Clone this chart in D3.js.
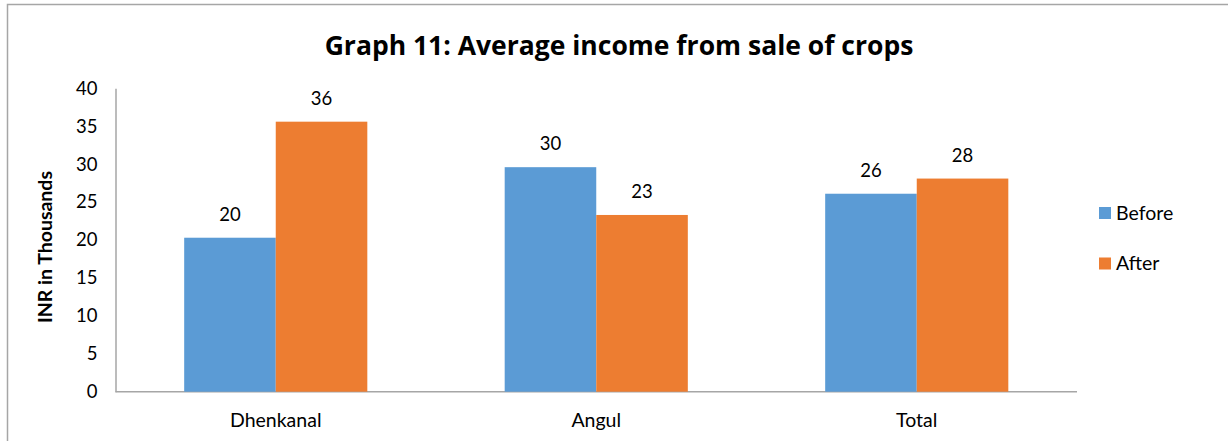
<!DOCTYPE html>
<html>
<head>
<meta charset="utf-8">
<script src="https://cdn.jsdelivr.net/npm/d3@7/dist/d3.min.js"></script>
<style>
  html, body { margin: 0; padding: 0; background: #fff; }
  svg { display: block; }
  text { font-family: Lato, "Open Sans", sans-serif; fill: #000; }
</style>
</head>
<body>
<svg id="chart" width="1228" height="441"></svg>
<script>
// Average income from sale of crops (INR thousands)
const categories = ["Dhenkanal", "Angul", "Total"];
const seriesNames = ["Before", "After"];
const beforeValues = [20.3, 29.6, 26.1];
const afterValues = [35.6, 23.3, 28.1];
const yTicks = [0, 5, 10, 15, 20, 25, 30, 35, 40];
const colors = ["#5B9BD5", "#ED7D31"];

const rows = categories.map((c, i) => ({ category: c, values: [beforeValues[i], afterValues[i]] }));

const svg = d3.select("#chart");
const W = 1228, H = 441;
const plot = { left: 115.5, right: 1077, top: 88.3, bottom: 391.7 };

// chart frame
svg.append("path")
  .attr("d", `M7.5,${H} V4.5 H${W}`)
  .attr("fill", "none")
  .attr("stroke", "#a6a6a6")
  .attr("stroke-width", 1.5);

const x0 = d3.scaleBand()
  .domain(categories)
  .range([plot.left, plot.right])
  .paddingInner(0.4286)
  .paddingOuter(0.2143);

const x1 = d3.scaleBand()
  .domain(seriesNames)
  .range([0, x0.bandwidth()]);

const y = d3.scaleLinear().domain([0, 40]).range([plot.bottom, plot.top]);

// title
svg.append("text")
  .attr("x", 619)
  .attr("y", 55)
  .attr("text-anchor", "middle")
  .style("font-family", "'Open Sans', sans-serif")
  .style("font-weight", "bold")
  .style("font-size", "26.5px")
  .text("Graph 11: Average income from sale of crops");

// y axis
const yAxis = d3.axisLeft(y).tickValues(yTicks).tickSize(0).tickPadding(18);
const gy = svg.append("g").attr("transform", `translate(${plot.left},0)`).call(yAxis);
gy.select(".domain").attr("stroke", "#a6a6a6").attr("stroke-width", 1.5);
gy.selectAll("text").style("font-size", "18.5px").style("font-family", "Lato, sans-serif").attr("fill", "#000");

// x axis
const xAxis = d3.axisBottom(x0).tickSize(0).tickPadding(21);
const gx = svg.append("g").attr("transform", `translate(0,${plot.bottom})`).call(xAxis);
gx.select(".domain").attr("stroke", "#a6a6a6").attr("stroke-width", 1.5).attr("d", `M${plot.left},0H${plot.right}`);
gx.selectAll("text").style("font-size", "19.5px").style("font-family", "Lato, sans-serif").attr("fill", "#000");

// y axis title
svg.append("text")
  .attr("transform", `translate(52,${(plot.top + plot.bottom) / 2 + 7}) rotate(-90)`)
  .attr("text-anchor", "middle")
  .style("font-weight", "bold")
  .style("font-size", "19.5px")
  .text("INR in Thousands");

// bars
const groups = svg.append("g").selectAll("g")
  .data(rows)
  .join("g")
  .attr("transform", d => `translate(${x0(d.category)},0)`);

groups.selectAll("rect")
  .data(d => d.values.map((v, i) => ({ name: seriesNames[i], value: v, i })))
  .join("rect")
  .attr("x", d => x1(d.name))
  .attr("width", x1.bandwidth())
  .attr("y", d => y(d.value))
  .attr("height", d => y(0) - y(d.value))
  .attr("fill", d => colors[d.i]);

// value labels
const fmt = d3.format(".0f");
groups.selectAll("text.val")
  .data(d => d.values.map((v, i) => ({ name: seriesNames[i], value: v })))
  .join("text")
  .attr("class", "val")
  .attr("x", d => x1(d.name) + x1.bandwidth() / 2)
  .attr("y", d => y(d.value) - 17)
  .attr("text-anchor", "middle")
  .style("font-size", "18.5px")
  .text(d => fmt(d.value));

// legend
const legend = svg.append("g").selectAll("g")
  .data(seriesNames)
  .join("g")
  .attr("transform", (d, i) => `translate(1099,${207 + i * 50.5})`);
legend.append("rect").attr("width", 12).attr("height", 12).attr("fill", (d, i) => colors[i]);
legend.append("text").attr("x", 17).attr("y", 12.5).style("font-size", "19.5px").text(d => d);
</script>
</body>
</html>
